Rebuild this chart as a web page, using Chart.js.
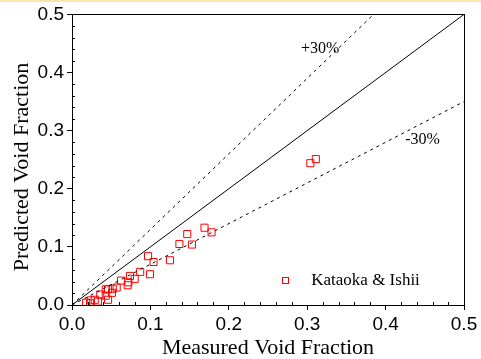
<!DOCTYPE html>
<html>
<head>
<meta charset="utf-8">
<script src="https://cdn.jsdelivr.net/npm/chart.js@4.4.1/dist/chart.umd.min.js"></script>
<style>
  html, body { margin: 0; padding: 0; background: #fff; }
  #wrap { position: relative; width: 481px; height: 359px; }
  #band { position: absolute; left: 0; top: 0; width: 481px; height: 2px; background: #fce3b4; }
</style>
</head>
<body>
<div id="wrap">
  <canvas id="myChart" width="481" height="359"></canvas>
  <div id="band"></div>
</div>
<script>
// Kataoka & Ishii data, measured vs predicted void fraction
const measured  = [0.311, 0.304, 0.169, 0.178, 0.147, 0.137, 0.153, 0.125, 0.097, 0.104,
                   0.0995, 0.087, 0.080, 0.074, 0.071, 0.072, 0.0625, 0.057, 0.052, 0.051,
                   0.046, 0.043, 0.043, 0.046, 0.036, 0.033, 0.029, 0.024, 0.018, 0.023];
const predicted = [0.251, 0.244, 0.133, 0.125, 0.122, 0.105, 0.104, 0.077, 0.084, 0.074,
                   0.053, 0.057, 0.045, 0.050, 0.034, 0.039, 0.042, 0.030, 0.028, 0.021,
                   0.027, 0.027, 0.016, 0.009, 0.018, 0.006, 0.009, 0.008, 0.004, 0.003];

// reference lines: 1:1, +30%, -30%
const lineX = [0, 0.5];
const lineY = [0, 0.5];
const plusX = [0, 0.3846];
const plusY = [0, 0.5];
const minusX = [0, 0.5];
const minusY = [0, 0.35];

const tickLabels = ['0.0', '0.1', '0.2', '0.3', '0.4', '0.5'];

const pts = (xs, ys) => xs.map((x, i) => ({ x: x, y: ys[i] }));

const serif = '"Liberation Serif", "Times New Roman", serif';
const sans = '"Liberation Sans", Arial, sans-serif';

const extras = {
    id: 'extras',
    afterDraw(chart) {
        const c = chart.ctx;
        const xs = chart.scales.x, ys = chart.scales.y;
        const a = chart.chartArea;
        c.save();
        // frame
        c.strokeStyle = '#000';
        c.lineWidth = 1;
        c.strokeRect(Math.round(a.left) + 0.5, Math.round(a.top) + 0.5,
            Math.round(a.right - a.left), Math.round(a.bottom - a.top));
        // minor ticks inward
        c.beginPath();
        for (let i = 1; i < 25; i++) {
            if (i % 5 === 0) continue;
            const v = i * 0.02;
            const px = Math.round(xs.getPixelForValue(v)) + 0.5;
            c.moveTo(px, a.bottom);
            c.lineTo(px, a.bottom - 3);
            const py = Math.round(ys.getPixelForValue(v)) + 0.5;
            c.moveTo(a.left, py);
            c.lineTo(a.left + 3, py);
        }
        c.stroke();

        // line labels
        c.fillStyle = '#000';
        c.font = '16px ' + serif;
        c.textBaseline = 'alphabetic';
        c.textAlign = 'left';
        c.fillText('+30%', xs.getPixelForValue(0.292), ys.getPixelForValue(0.4335));
        c.fillText('-30%', xs.getPixelForValue(0.425), ys.getPixelForValue(0.2770));

        // legend
        const lx = xs.getPixelForValue(0.272), ly = ys.getPixelForValue(0.043);
        c.strokeStyle = '#ff0000';
        c.strokeRect(Math.round(lx) - 3 + 0.5, Math.round(ly) - 3 + 0.5, 6, 6);
        c.font = '17px ' + serif;
        c.textBaseline = 'middle';
        c.fillText('Kataoka & Ishii', lx + 26, ly + 1);

        // axis titles
        c.font = '22px ' + serif;
        c.textAlign = 'center';
        c.textBaseline = 'alphabetic';
        c.fillText('Measured Void Fraction', (a.left + a.right) / 2, 354);
        c.translate(28, 167);
        c.rotate(-Math.PI / 2);
        c.fillText('Predicted Void Fraction', 0, 0);
        c.restore();
    }
};

const ctx = document.getElementById('myChart');

const axis = (isX) => ({
    type: 'linear',
    min: 0,
    max: 0.5,
    afterFit: function (scale) {
        if (isX) scale.height = 54; else scale.width = 72;
    },
    afterBuildTicks: function (scale) {
        scale.ticks = tickLabels.map(t => ({ value: parseFloat(t) }));
    },
    ticks: {
        callback: (v) => v.toFixed(1),
        color: '#000',
        font: { family: sans, size: 19 },
        padding: 3,
        maxRotation: 0,
        autoSkip: false
    },
    grid: {
        display: true,
        drawOnChartArea: false,
        drawTicks: true,
        tickLength: 5,
        color: '#000',
        tickColor: '#000'
    },
    border: { display: true, color: '#000' }
});

const myChart = new Chart(ctx, {
    type: 'scatter',
    data: {
        datasets: [
            {
                label: '1:1',
                data: pts(lineX, lineY),
                showLine: true,
                borderColor: '#000',
                borderWidth: 1,
                pointRadius: 0
            },
            {
                label: '+30%',
                data: pts(plusX, plusY),
                showLine: true,
                borderColor: '#000',
                borderWidth: 1,
                borderDash: [3, 4],
                pointRadius: 0
            },
            {
                label: '-30%',
                data: pts(minusX, minusY),
                showLine: true,
                borderColor: '#000',
                borderWidth: 1,
                borderDash: [3, 4],
                pointRadius: 0
            },
            {
                label: 'Kataoka & Ishii',
                data: pts(measured, predicted),
                pointStyle: 'rect',
                pointRadius: 5,
                pointBorderWidth: 1,
                pointBorderColor: '#ff0000',
                pointBackgroundColor: 'rgba(0,0,0,0)'
            }
        ]
    },
    options: {
        responsive: false,
        animation: false,
        layout: { padding: { top: 14, right: 17, left: 0, bottom: 0 } },
        plugins: {
            legend: { display: false },
            tooltip: { enabled: false }
        },
        scales: {
            x: axis(true),
            y: axis(false)
        }
    },
    plugins: [extras]
});
</script>
</body>
</html>
